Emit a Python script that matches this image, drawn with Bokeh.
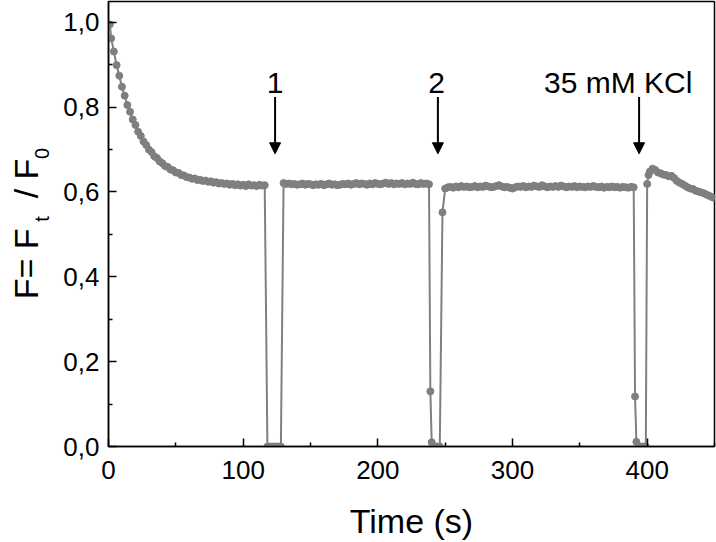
import math
from bokeh.plotting import figure
from bokeh.layouts import row
from bokeh.models import (Range1d, FixedTicker, CustomJSTickFormatter, Label,
                          Arrow, NormalHead, ColumnDataSource)
from bokeh.embed import file_html
from bokeh.resources import INLINE

# ---------------- data ----------------
t_decay = [1, 2, 4, 6, 8, 10, 12, 14, 16, 18, 20, 22, 24, 26, 28, 30, 32, 34, 36, 38,
           40, 42, 44, 46, 48, 50, 52, 54, 56, 58, 60, 62, 64, 66, 68, 70, 72, 74, 76, 78,
           80, 82, 84, 86, 88, 90, 92, 94, 96, 98, 100, 102, 104, 106, 108, 110, 112, 114, 116]
f_decay = [0.995, 0.962, 0.931, 0.899, 0.874, 0.848, 0.827, 0.805, 0.789, 0.771,
           0.758, 0.742, 0.732, 0.719, 0.711, 0.700, 0.694, 0.684, 0.680, 0.672,
           0.668, 0.661, 0.659, 0.653, 0.651, 0.646, 0.645, 0.640, 0.639, 0.635,
           0.634, 0.631, 0.632, 0.628, 0.629, 0.626, 0.627, 0.624, 0.625, 0.622,
           0.623, 0.620, 0.621, 0.619, 0.620, 0.617, 0.619, 0.616, 0.618, 0.615,
           0.617, 0.614, 0.618, 0.615, 0.616, 0.614, 0.617, 0.615, 0.616]

t_gap1 = [118, 120, 122, 124, 126, 128]
f_gap1 = [0.0, 0.0, 0.0, 0.0, 0.0, 0.0]

t_plateau1 = [130, 132, 134, 136, 138, 140, 142, 144, 146, 148, 150, 152, 154, 156, 158,
              160, 162, 164, 166, 168, 170, 172, 174, 176, 178, 180, 182, 184, 186, 188,
              190, 192, 194, 196, 198, 200, 202, 204, 206, 208, 210, 212, 214, 216, 218,
              220, 222, 224, 226, 228, 230, 232, 234, 236, 238]
f_plateau1 = [0.621, 0.619, 0.620, 0.618, 0.619, 0.617, 0.618, 0.620, 0.617, 0.619,
              0.618, 0.616, 0.618, 0.617, 0.619, 0.616, 0.618, 0.620, 0.617, 0.618,
              0.616, 0.617, 0.619, 0.618, 0.620, 0.617, 0.619, 0.621, 0.618, 0.620,
              0.619, 0.617, 0.620, 0.618, 0.621, 0.619, 0.618, 0.620, 0.622, 0.619,
              0.621, 0.618, 0.620, 0.619, 0.621, 0.618, 0.620, 0.619, 0.622, 0.619,
              0.618, 0.621, 0.619, 0.620, 0.618]

t_gap2 = [239, 240, 242, 244, 246, 248]
f_gap2 = [0.130, 0.010, 0.0, 0.0, 0.0, 0.552]

t_plateau2 = [250, 252, 254, 256, 258, 260, 262, 264, 266, 268, 270, 272, 274, 276, 278,
              280, 282, 284, 286, 288, 290, 292, 294, 296, 298, 300, 302, 304, 306, 308,
              310, 312, 314, 316, 318, 320, 322, 324, 326, 328, 330, 332, 334, 336, 338,
              340, 342, 344, 346, 348, 350, 352, 354, 356, 358, 360, 362, 364, 366, 368,
              370, 372, 374, 376, 378, 380, 382, 384, 386, 388, 390]
f_plateau2 = [0.608, 0.611, 0.612, 0.610, 0.613, 0.611, 0.614, 0.612, 0.613, 0.611,
              0.612, 0.614, 0.611, 0.613, 0.612, 0.615, 0.613, 0.611, 0.612, 0.614,
              0.616, 0.613, 0.611, 0.612, 0.610, 0.608, 0.611, 0.613, 0.612, 0.614,
              0.611, 0.613, 0.612, 0.615, 0.613, 0.612, 0.616, 0.613, 0.611, 0.613,
              0.612, 0.614, 0.612, 0.615, 0.613, 0.611, 0.613, 0.612, 0.614, 0.611,
              0.613, 0.612, 0.611, 0.613, 0.612, 0.614, 0.612, 0.611, 0.613, 0.610,
              0.612, 0.611, 0.613, 0.611, 0.612, 0.610, 0.612, 0.611, 0.610, 0.612,
              0.611]

t_gap3 = [391, 392, 394, 396, 398, 399]
f_gap3 = [0.118, 0.011, 0.0, 0.0, 0.0, 0.0]

t_kcl = [400, 401, 402, 404, 406, 408, 410, 412, 414, 416, 418, 420, 422, 424, 426,
         428, 430, 432, 434, 436, 438, 440, 442, 444, 446, 448, 450]
f_kcl = [0.619, 0.640, 0.648, 0.655, 0.652, 0.646, 0.644, 0.641, 0.640, 0.637,
         0.638, 0.633, 0.626, 0.622, 0.619, 0.615, 0.611, 0.608, 0.607, 0.603,
         0.601, 0.599, 0.597, 0.594, 0.591, 0.588, 0.586]

x_major_ticks = [0, 100, 200, 300, 400]
x_minor_ticks = [50, 150, 250, 350, 450]
y_major_ticks = [0.0, 0.2, 0.4, 0.6, 0.8, 1.0]
y_minor_ticks = [0.1, 0.3, 0.5, 0.7, 0.9]

arrow_x = [123.7, 244.6, 394.0]
arrow_y_start = 0.824
arrow_y_end = 0.690
arrow_texts = ["1", "2", "35 mM KCl"]
arrow_text_x = [123.7, 243.7, 378.5]
arrow_text_y = 0.857

x_title = "Time (s)"
# y title pieces: F= F_t / F_0
y_title_texts = ["F= F", "t", "/ F", "0"]
y_title_pos = [0.347, 0.530, 0.585, 0.678]

# ---------------- figure ----------------
t_all = t_decay + t_gap1 + t_plateau1 + t_gap2 + t_plateau2 + t_gap3 + t_kcl
f_all = f_decay + f_gap1 + f_plateau1 + f_gap2 + f_plateau2 + f_gap3 + f_kcl
src = ColumnDataSource(data=dict(t=t_all, f=f_all))

FONT = "Liberation Sans"
GRAY = "#7f7f7f"
TITLE_W = 56

yr = Range1d(0, 1.049)

p = figure(width=716 - TITLE_W, height=542, output_backend="svg", toolbar_location=None,
           x_range=Range1d(0, 450), y_range=yr,
           min_border_left=108 - TITLE_W, min_border_right=2, min_border_top=1,
           min_border_bottom=94)
p.background_fill_color = "white"
p.border_fill_color = "white"
p.outline_line_color = "black"
p.outline_line_width = 1.5
p.xgrid.visible = False
p.ygrid.visible = False

p.line("t", "f", source=src, line_color=GRAY, line_width=2)
p.scatter("t", "f", source=src, size=7, fill_color=GRAY, line_color=GRAY)

for ax in (p.xaxis[0], p.yaxis[0]):
    ax.axis_line_width = 1.5
    ax.axis_line_color = "black"
    ax.major_tick_in = 8
    ax.major_tick_out = 0
    ax.minor_tick_in = 4
    ax.minor_tick_out = 0
    ax.major_tick_line_width = 1.5
    ax.minor_tick_line_width = 1.5
    ax.major_label_text_font = FONT
    ax.major_label_text_font_size = "26px"
    ax.major_label_text_color = "black"

p.xaxis[0].ticker = FixedTicker(ticks=x_major_ticks, minor_ticks=x_minor_ticks)
p.yaxis[0].ticker = FixedTicker(ticks=y_major_ticks, minor_ticks=y_minor_ticks)
p.yaxis[0].formatter = CustomJSTickFormatter(code="return tick.toFixed(1).replace('.', ',');")
p.xaxis[0].major_label_standoff = 14
p.yaxis[0].major_label_standoff = 9

p.xaxis[0].axis_label = x_title
p.xaxis[0].axis_label_text_font = FONT
p.xaxis[0].axis_label_text_font_size = "34px"
p.xaxis[0].axis_label_text_font_style = "normal"
p.xaxis[0].axis_label_text_color = "black"
p.xaxis[0].axis_label_standoff = 20

# arrows with labels
for ax_, tx_, txt in zip(arrow_x, arrow_text_x, arrow_texts):
    p.add_layout(Arrow(x_start=ax_, y_start=arrow_y_start, x_end=ax_, y_end=arrow_y_end,
                       line_color="black", line_width=2,
                       end=NormalHead(size=11, fill_color="black", line_color="black")))
    p.add_layout(Label(x=tx_, y=arrow_text_y, text=txt, text_align="center",
                       text_baseline="alphabetic", text_font=FONT,
                       text_font_size="30px", text_color="black"))

# y-axis title in its own narrow panel (rotated, with subscripts)
tf = figure(width=TITLE_W, height=542, output_backend="svg", toolbar_location=None,
            x_range=Range1d(0, TITLE_W), y_range=yr,
            x_axis_location=None, y_axis_location=None,
            min_border_left=0, min_border_right=0, min_border_top=1,
            min_border_bottom=94)
tf.outline_line_color = None
tf.xgrid.visible = False
tf.ygrid.visible = False
tf.background_fill_color = "white"
tf.border_fill_color = "white"

title_x = [25, 41, 25, 41]
title_size = ["34px", "20px", "34px", "20px"]
for txt, yv, sx, fs in zip(y_title_texts, y_title_pos, title_x, title_size):
    tf.add_layout(Label(x=sx, y=yv, text=txt,
                        angle=math.pi / 2, text_align="left", text_baseline="alphabetic",
                        text_font=FONT, text_font_size=fs, text_color="black"))

layout = row(tf, p, spacing=0)
open("out.html", "w").write(file_html(layout, INLINE))
